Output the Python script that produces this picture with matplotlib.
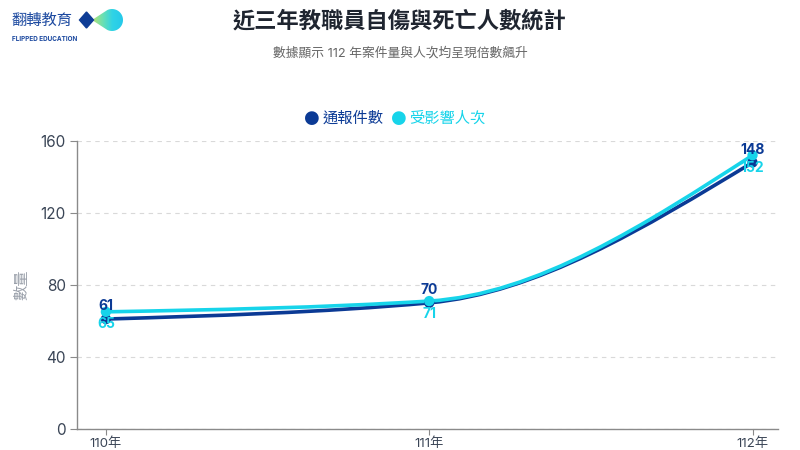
import matplotlib
matplotlib.use("Agg")
import matplotlib.pyplot as plt
import numpy as np
from matplotlib.path import Path
from matplotlib.patches import PathPatch, Polygon
from matplotlib.colors import LinearSegmentedColormap

plt.rcParams["font.family"] = ["Inter", "Noto Sans CJK TC", "DejaVu Sans"]

# ── data ──────────────────────────────────────────────────────────────
years = ["110年", "111年", "112年"]
reports = [61, 70, 148]      # 通報件數
affected = [65, 71, 152]     # 受影響人次

DARK = "#0b3a95"
CYAN = "#17d4ea"
GRID = "#d9d9d9"
AXIS = "#8a8a8a"
TICK = "#3a4556"


def monotone_path(x, y):
    """Monotone cubic (Fritsch-Carlson) path through the points, as Bezier segments."""
    x = np.asarray(x, float)
    y = np.asarray(y, float)
    h = np.diff(x)
    d = np.diff(y) / h
    m = np.zeros_like(y)
    for i in range(1, len(y) - 1):
        if d[i - 1] * d[i] <= 0:
            m[i] = 0
        else:
            m[i] = 3 * (h[i - 1] + h[i]) / ((2 * h[i] + h[i - 1]) / d[i - 1] + (h[i] + 2 * h[i - 1]) / d[i])
    m[0] = (3 * d[0] - m[1]) / 2
    m[-1] = (3 * d[-1] - m[-2]) / 2
    verts = [(x[0], y[0])]
    codes = [Path.MOVETO]
    for i in range(len(x) - 1):
        dx = h[i] / 3
        verts += [(x[i] + dx, y[i] + m[i] * dx), (x[i + 1] - dx, y[i + 1] - m[i + 1] * dx), (x[i + 1], y[i + 1])]
        codes += [Path.CURVE4] * 3
    return Path(verts, codes)


fig = plt.figure(figsize=(8, 4.5), dpi=100)
ax = fig.add_axes([0.096, 0.047, 0.877, 0.64])

xs = np.arange(len(years))
for vals, col, z in ((reports, DARK, 3), (affected, CYAN, 4)):
    ax.add_patch(PathPatch(monotone_path(xs, vals), fill=False, edgecolor=col, lw=2.6, zorder=z,
                           capstyle="round", joinstyle="round"))
    ax.scatter(xs, vals, s=55, color=col, zorder=z + 2, edgecolors="none")

for i in xs:
    ax.annotate(str(reports[i]), (xs[i], reports[i]), xytext=(0, 4), textcoords="offset points",
                ha="center", va="bottom", color=DARK, fontsize=10, fontweight="bold", zorder=8)
    ax.annotate(str(affected[i]), (xs[i], affected[i]), xytext=(0, -4), textcoords="offset points",
                ha="center", va="top", color=CYAN, fontsize=10, fontweight="bold", zorder=8)

ax.set_xlim(-0.09, 2.08)
ax.set_ylim(0, 160)
ax.set_xticks(xs)
ax.set_xticklabels(years)
ax.set_yticks([0, 40, 80, 120, 160])
ax.tick_params(axis="y", labelsize=11, colors=TICK, length=5, color=AXIS, pad=3)
ax.tick_params(axis="x", labelsize=9.5, colors=TICK, length=4, color=AXIS, pad=2)
ax.grid(axis="y", color=GRID, linestyle=(0, (4, 4)), linewidth=0.8)
ax.set_axisbelow(True)
for s in ("top", "right"):
    ax.spines[s].set_visible(False)
for s in ("left", "bottom"):
    ax.spines[s].set_color(AXIS)
    ax.spines[s].set_linewidth(1.0)
ax.set_ylabel("數量", color="#9aa0aa", fontsize=11, labelpad=8)

# ── titles ───────────────────────────────────────────────────────────
fig.text(0.5, 0.955, "近三年教職員自傷與死亡人數統計", ha="center", va="center",
         fontsize=16, fontweight="bold", color="#1f2530")
fig.text(0.5, 0.882, "數據顯示 112 年案件量與人次均呈現倍數飆升", ha="center", va="center",
         fontsize=9.2, color="#666666")

# ── legend ───────────────────────────────────────────────────────────
fig.text(0.390, 0.738, "●", ha="center", va="center", fontsize=13, color=DARK, family=["DejaVu Sans"])
fig.text(0.403, 0.738, "通報件數", ha="left", va="center", fontsize=11, color=DARK)
fig.text(0.498, 0.738, "●", ha="center", va="center", fontsize=13, color=CYAN, family=["DejaVu Sans"])
fig.text(0.511, 0.738, "受影響人次", ha="left", va="center", fontsize=11, color=CYAN)

# ── logo ─────────────────────────────────────────────────────────────
fig.text(0.014, 0.955, "翻轉教育", ha="left", va="center", fontsize=11, color="#1d4aa0",
         family=["Noto Sans CJK TC"])
fig.text(0.015, 0.914, "FLIPPED EDUCATION", ha="left", va="center", fontsize=4.6, color="#1d4aa0",
         fontweight="bold")
lax = fig.add_axes([0.0, 0.88, 0.2, 0.12])
lax.set_xlim(0, 160)
lax.set_ylim(0, 54)
lax.axis("off")
cy = 54 - 20
lax.add_patch(Polygon([(79.5, cy), (86.5, cy + 8), (93.5, cy), (86.5, cy - 8)], closed=True,
                      color="#0f3d96", zorder=3))
# teardrop: tail from diamond tip to circle
r, cx = 11, 112
ang_top = np.deg2rad(115)
ang_bot = np.deg2rad(245)
theta = np.linspace(ang_top, ang_bot - 2 * np.pi, 60)
circ = [(cx + r * np.cos(t), cy + r * np.sin(t)) for t in theta]
drop_verts = [(92, cy)] + circ[::-1] + [(92, cy)]
drop = Path(drop_verts)
cmap = LinearSegmentedColormap.from_list("logo", ["#b8e070", "#6ee0b0", "#2fd3e6", "#25c9ea"])
grad = np.linspace(0, 1, 200).reshape(1, -1)
im = lax.imshow(grad, extent=(92, cx + r, cy - r, cy + r), cmap=cmap, aspect="auto", zorder=2)
im.set_clip_path(PathPatch(drop, transform=lax.transData))

fig.savefig("out.png", dpi=100)
